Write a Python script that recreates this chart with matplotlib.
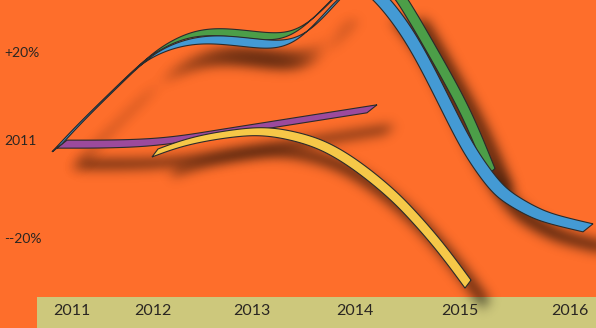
import numpy as np
import matplotlib
matplotlib.use('Agg')
import matplotlib.pyplot as plt
import matplotlib.transforms as mtransforms
from matplotlib.patches import Polygon, Rectangle

# values: x in years, y in percent
blue_x = [2011.00, 2011.26, 2011.60, 2011.86, 2012.08, 2012.33, 2012.60, 2012.93, 2013.26,
          2013.50, 2013.73, 2014.01, 2014.24, 2014.49, 2014.69, 2014.89, 2015.09, 2015.27,
          2015.43, 2015.60, 2015.76, 2015.93, 2016.31]
blue_y = [-0.4, 5.6, 12.7, 18.1, 20.9, 22.6, 23.0, 22.2, 21.5,
          24.1, 29.5, 36.0, 32.0, 25.0, 17.4, 8.8, 0.2, -5.6,
          -9.9, -12.3, -14.2, -15.7, -17.6]

green_x = [2011.00, 2011.26, 2011.60, 2011.86, 2012.08, 2012.33, 2012.60, 2012.93, 2013.26,
           2013.50, 2013.73, 2014.03, 2014.31, 2014.46, 2014.75, 2015.03, 2015.19, 2015.34]
green_y = [-0.4, 5.6, 12.7, 18.3, 21.7, 24.1, 24.7, 23.9, 23.2,
           26.0, 31.0, 37.5, 35.5, 31.4, 20.6, 9.9, 2.4, -5.6]

purple_x = [2011.05, 2011.93, 2012.50, 2013.00, 2013.50, 2014.15]
purple_y = [0.4, 0.4, 2.4, 4.1, 5.8, 8.0]

yellow_x = [2011.98, 2012.33, 2012.83, 2013.08, 2013.33, 2013.66, 2014.00, 2014.33,
            2014.53, 2014.83, 2015.11]
yellow_y = [-1.5, 1.3, 3.0, 3.2, 2.4, 0.4, -4.1, -9.9, -14.2, -21.5, -29.7]

year_labels = ['2011', '2012', '2013', '2014', '2015', '2016']
pct_labels = ['+20%', '2011', '--20%']
pct_values = [20, 1, -20]

W, H = 596, 328
ORANGE = '#fe6e2b'
KHAKI = '#cdc87c'
INK = '#2a2622'

plt.rcParams['font.family'] = ['Lato', 'DejaVu Sans']


def smooth(p, n=24):
    # clamped cubic b-spline, keeps the ribbons free of kinks
    p = np.asarray(p, float)
    p = np.vstack([p[0], p[0], p, p[-1], p[-1]])
    t = np.linspace(0, 1, n, endpoint=False)[:, None]
    b0 = (1 - t) ** 3 / 6
    b1 = (3 * t ** 3 - 6 * t ** 2 + 4) / 6
    b2 = (-3 * t ** 3 + 3 * t ** 2 + 3 * t + 1) / 6
    b3 = t ** 3 / 6
    out = [b0 * p[i] + b1 * p[i + 1] + b2 * p[i + 2] + b3 * p[i + 3] for i in range(len(p) - 3)]
    out.append(p[-1][None])
    return np.vstack(out)


class DropShadow:
    def __init__(self, dx=18, dy=20, sigma=6, alpha=0.75):
        self.dx, self.dy, self.sigma, self.alpha = dx, dy, sigma, alpha

    def __call__(self, im, dpi):
        pad = int(3 * self.sigma) + max(self.dx, self.dy)
        a = np.pad(im[:, :, 3], pad)
        r = int(3 * self.sigma)
        k = np.exp(-np.arange(-r, r + 1) ** 2 / (2 * self.sigma ** 2))
        k /= k.sum()
        a = np.apply_along_axis(lambda v: np.convolve(v, k, mode='same'), 1, a)
        a = np.apply_along_axis(lambda v: np.convolve(v, k, mode='same'), 0, a)
        a = np.roll(np.roll(a, self.dx, axis=1), self.dy, axis=0)
        out = np.zeros(a.shape + (4,))
        out[..., 3] = np.clip(a * self.alpha, 0, 1)
        return out, -pad, -pad


fig = plt.figure(figsize=(W / 100, H / 100), dpi=100)
fig.patch.set_facecolor(ORANGE)
ax = fig.add_axes([0, 0, 1, 1])
ax.set_xlim(2011 - 57 / 100, 2011 + (W - 57) / 100)
ax.set_ylim(-(H - 146) / 4.65, 146 / 4.65)
ax.set_axis_off()

ax.add_patch(Rectangle((37 / W, 0), 1, 31 / H, transform=ax.transAxes,
                       facecolor=KHAKI, edgecolor='none', zorder=1))


def ribbon(xs, ys, vec, color, z):
    pts = ax.transData.transform(np.column_stack([xs, ys]))
    c = smooth(pts)
    v = np.array(vec) / 2.0
    poly = np.vstack([c - v, (c + v)[::-1]])
    poly = ax.transData.inverted().transform(poly)
    sh = Polygon(poly, closed=True, facecolor='black', edgecolor='none', zorder=2)
    sh.set_agg_filter(DropShadow())
    sh.set_rasterized(True)
    ax.add_patch(sh)
    ax.add_patch(Polygon(poly, closed=True, facecolor=color, edgecolor='#2b2b2b',
                         linewidth=0.8, joinstyle='miter', zorder=z))


ribbon(purple_x, purple_y, (10, 8), '#9c4a9c', 3)
ribbon(yellow_x, yellow_y, (6, 8), '#f6c848', 4)
ribbon(green_x, green_y, (8, 7), '#4c9e48', 5)
ribbon(blue_x, blue_y, (10, 8), '#449ad4', 6)

label_px = [72, 153, 252, 355, 460, 570]
for lab, px in zip(year_labels, label_px):
    ax.text(px / W, 17 / H, lab, transform=ax.transAxes, ha='center', va='center',
            fontsize=11.5, color=INK, zorder=10)

trans = mtransforms.blended_transform_factory(ax.transAxes, ax.transData)
for lab, val in zip(pct_labels, pct_values):
    ax.text(4 / W, val, lab, transform=trans, ha='left', va='center',
            fontsize=10, color=INK, zorder=10)

fig.savefig('out.png', dpi=100, facecolor=ORANGE)
